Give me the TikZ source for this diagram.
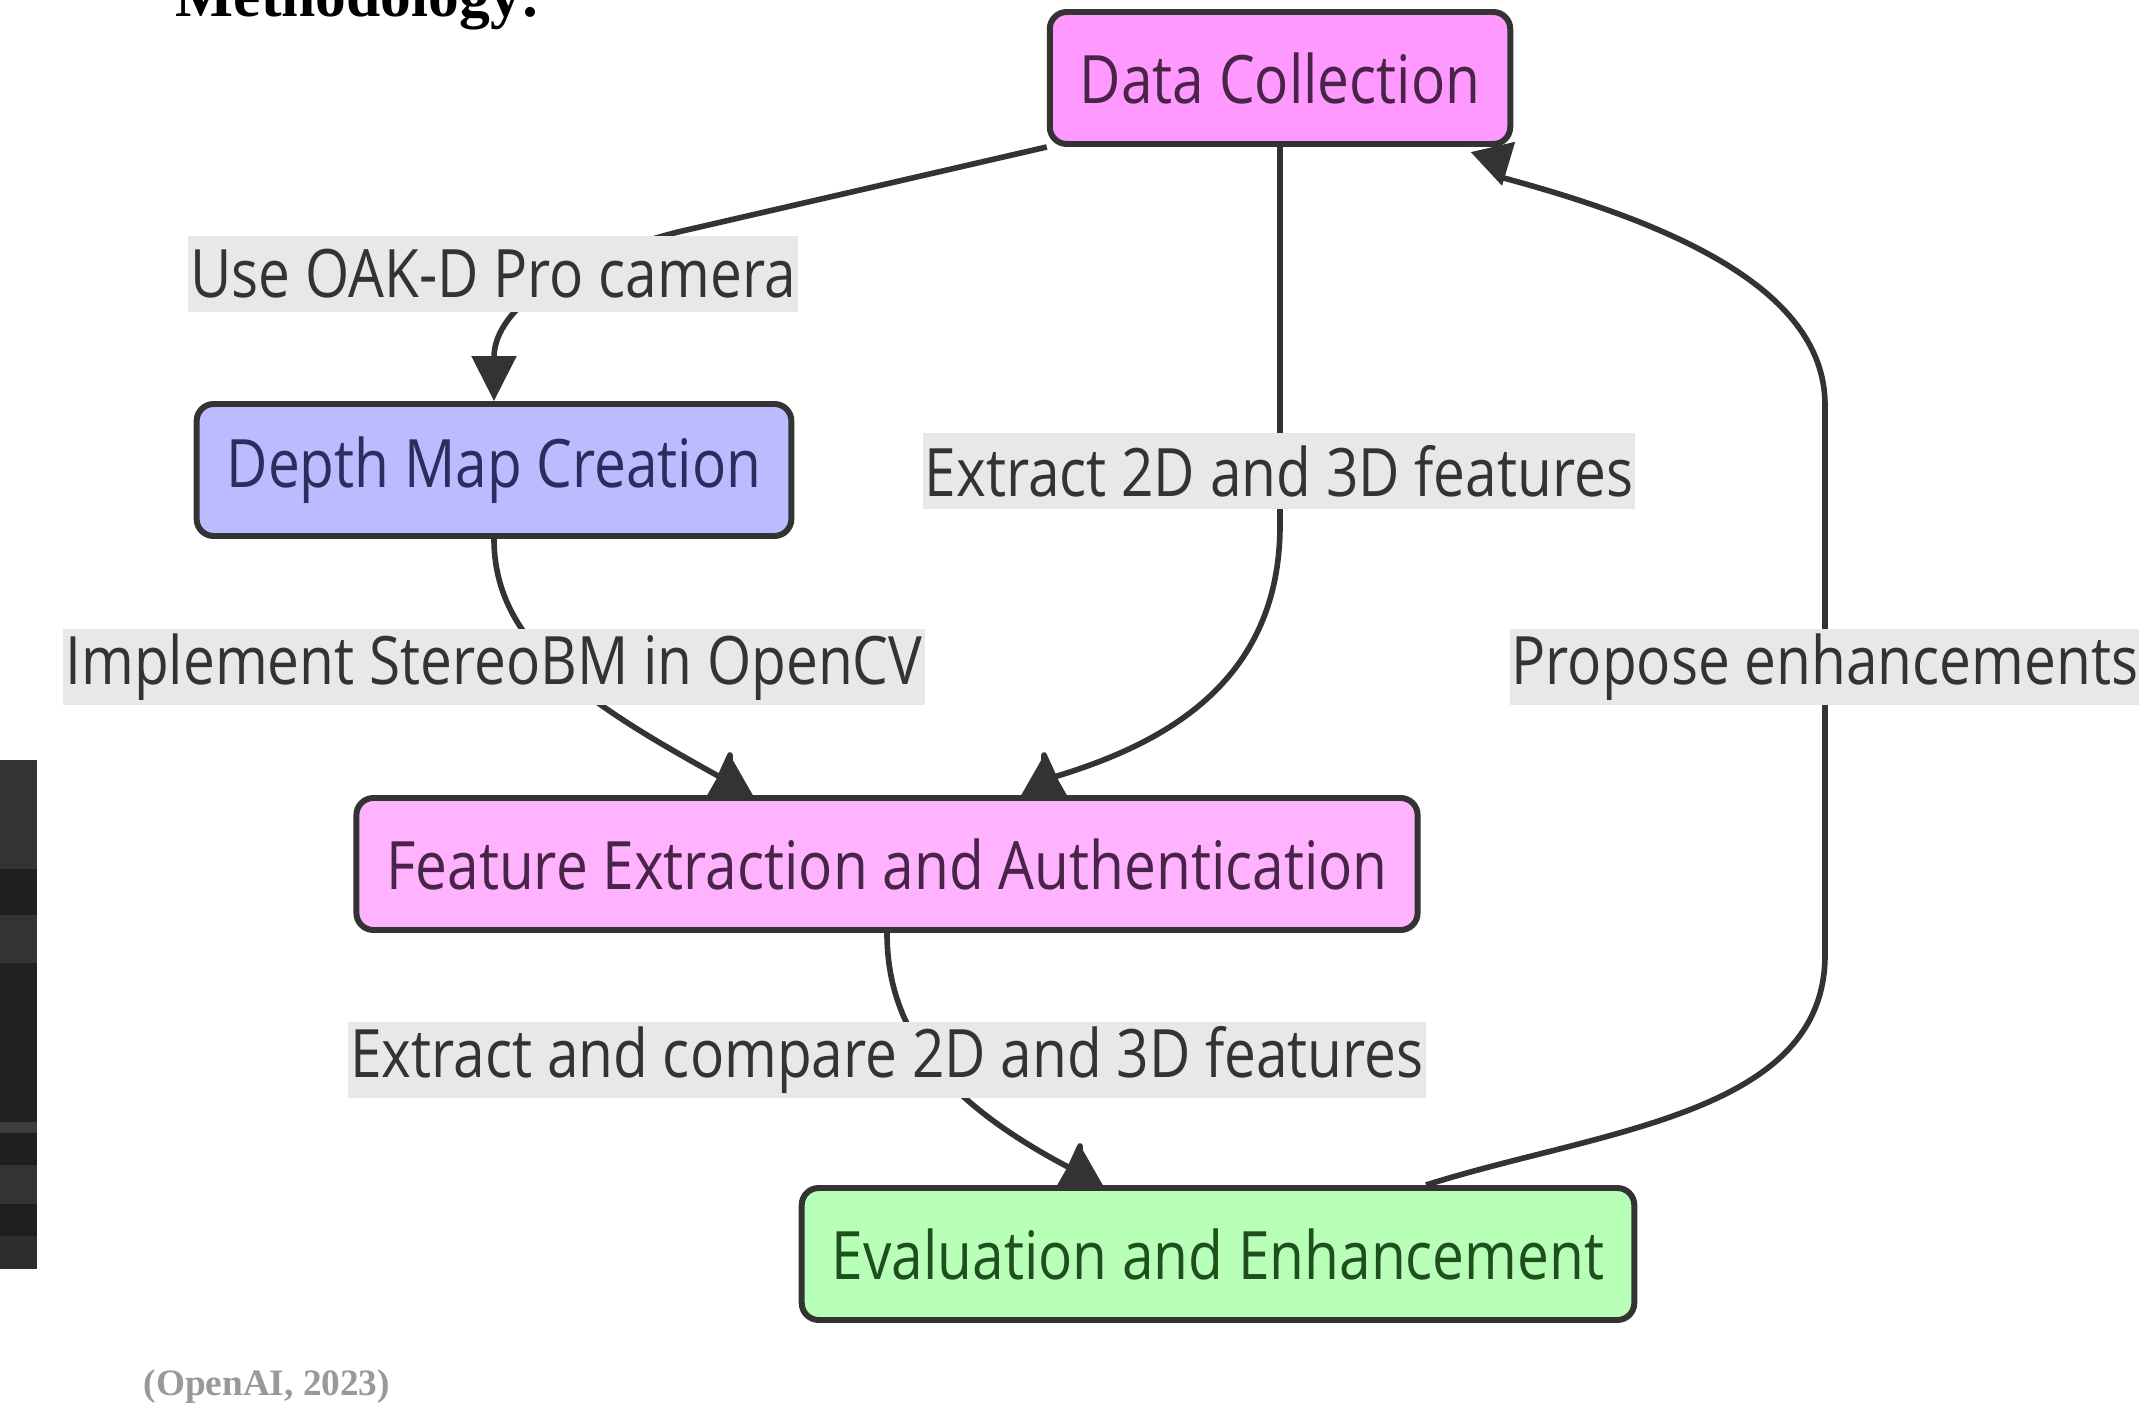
\documentclass[tikz,border=0pt]{standalone}
\usepackage{fontspec}
\usepackage{xcolor}
\newfontfamily\flowfont{Open Sans}[FakeStretch=0.85]
\newfontfamily\headfont{Liberation Serif}
\usetikzlibrary{arrows.meta, positioning, calc, backgrounds}

\definecolor{linegray}{HTML}{333333}
\definecolor{labelbg}{HTML}{E8E8E8}
\definecolor{pinkfill}{HTML}{FF99FF}
\definecolor{lightpink}{HTML}{FFB3FF}
\definecolor{bluefill}{HTML}{BBBBFF}
\definecolor{greenfill}{HTML}{B8FFB8}
\definecolor{pinktext}{HTML}{4A2448}
\definecolor{bluetext}{HTML}{2B2D5E}
\definecolor{greentext}{HTML}{1F4F1F}

\begin{document}
\begin{tikzpicture}[
    box/.style={draw=linegray, line width=1.7pt, rounded corners=0.17cm,
        minimum height=1.32cm, inner xsep=0.3cm,
        font=\flowfont\fontsize{19}{23}\selectfont},
    elabel/.style={fill=labelbg, text=linegray, inner xsep=0.02cm, inner ysep=0pt,
        minimum height=0.76cm, font=\flowfont\fontsize{19}{23}\selectfont},
    flow/.style={draw=linegray, line width=1.6pt, line join=round},
    tip/.style={-{Triangle[length=0.45cm, width=0.44cm]}},
    backtip/.style={-{Triangle[length=0.4cm, width=0.44cm, reversed]}}
]
\useasboundingbox (0,0) rectangle (21.39,14.05);

% heading and source
\node[anchor=base west, inner sep=0, font=\headfont\bfseries\fontsize{17.5}{20}\selectfont]
    (heading) at (1.75,13.88) {Methodology:};
\node[anchor=base west, inner sep=0, text=black!40,
    font=\headfont\bfseries\fontsize{10.6}{13}\selectfont]
    (source) at (1.43,0.10) {(OpenAI, 2023)};

% dark strip on the left edge
\foreach \ya/\yb/\tone in {6.45/5.36/80, 5.36/4.90/88, 4.90/4.42/80, 4.42/2.83/87,
    2.83/2.72/76, 2.72/2.40/88, 2.40/2.01/80, 2.01/1.69/88, 1.69/1.36/82}
    \fill[black!\tone] (0,\ya) rectangle (0.37,\yb);

% steps
\node[box, fill=pinkfill, text=pinktext] (collect) at (12.80,13.27) {Data Collection};
\node[box, fill=bluefill, text=bluetext] (depth) at (4.94,9.35) {Depth Map Creation};
\node[box, fill=lightpink, text=pinktext] (feature) at (8.87,5.41) {Feature Extraction and Authentication};
\node[box, fill=greenfill, text=greentext] (evaluate) at (12.18,1.51) {Evaluation and Enhancement};

% edge labels
\node[elabel] (camera) at (4.93,11.31) {Use OAK-D Pro camera};
\node[elabel] (extract) at (12.79,9.34) {Extract 2D and 3D features};
\node[elabel] (stereo) at (4.94,7.38) {Implement StereoBM in OpenCV};
\node[elabel] (propose) at (18.25,7.38) {Propose enhancements};
\node[elabel] (compare) at (8.87,3.45) {Extract and compare 2D and 3D features};

% connectors (they meet the flat-based tips on their flank)
\begin{scope}[on background layer]
\fill[white] (0,0) rectangle (21.39,14.05);
\draw[flow, tip] (collect.south west) -- (6.78,11.73)
    .. controls (5.5,11.4) and (4.94,10.9) .. (depth.north);
\draw[flow, backtip] (collect.south) -- (12.80,8.8)
    .. controls (12.80,7.2) and (11.6,6.6) .. (10.54,6.28) -- (10.44,6.50)
    -- ([xshift=1.57cm]feature.north);
\draw[flow, backtip] (depth.south)
    .. controls (4.94,7.6) and (5.9,7.0) .. (7.20,6.28) -- (7.30,6.50)
    -- ([xshift=-1.57cm]feature.north);
\draw[flow, backtip] (feature.south)
    .. controls (8.87,3.7) and (9.5,3.0) .. (10.70,2.37) -- (10.80,2.59)
    -- ([xshift=-1.38cm]evaluate.north);
\draw[flow, backtip] ([xshift=2.08cm]evaluate.north)
    .. controls (16.0,2.75) and (18.25,2.9) .. (18.25,4.5) -- (18.25,10.0)
    .. controls (18.25,11.2) and (16.6,11.85) .. (15.00,12.28) -- ([xshift=2.13cm]collect.south);
\end{scope}
\end{tikzpicture}
\end{document}
